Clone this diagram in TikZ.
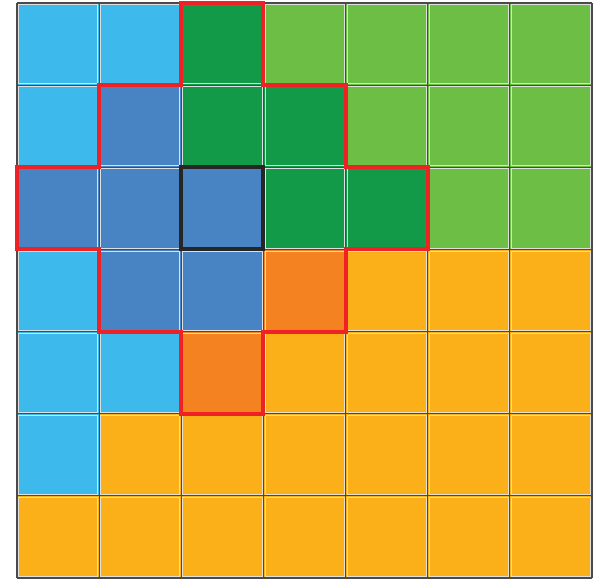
\documentclass[tikz,border=0pt]{standalone}
\definecolor{lb}{HTML}{3DB9EB}
\definecolor{bl}{HTML}{4884C4}
\definecolor{dg}{HTML}{139A48}
\definecolor{lg}{HTML}{6DBE45}
\definecolor{og}{HTML}{F58220}
\definecolor{yl}{HTML}{FBB01A}
\definecolor{gridgray}{HTML}{4A4A4A}
\definecolor{redline}{HTML}{EE2124}
\tikzset{
  cell/.style={draw=white!75!gray, line width=0.8pt},
  gridline/.style={draw=gridgray, line width=1.2pt},
  region/.style={draw=redline, line width=4pt, line join=miter},
  centre/.style={draw=black!85, line width=4pt}
}
\begin{document}
\begin{tikzpicture}[x=1pt,y=-1pt]
\useasboundingbox (0,0) rectangle (594,580);
\def\ox{17}\def\oy{3}\def\cs{82.143}
\foreach \c [count=\n from 0] in {
  lb,lb,dg,lg,lg,lg,lg,
  lb,bl,dg,dg,lg,lg,lg,
  bl,bl,bl,dg,dg,lg,lg,
  lb,bl,bl,og,yl,yl,yl,
  lb,lb,og,yl,yl,yl,yl,
  lb,yl,yl,yl,yl,yl,yl,
  yl,yl,yl,yl,yl,yl,yl}{
  \pgfmathtruncatemacro{\r}{int(\n/7)}
  \pgfmathtruncatemacro{\k}{\n-7*\r}
  \fill[\c] ({\ox+\k*\cs},{\oy+\r*\cs}) rectangle ++(\cs,\cs);
  \draw[cell] ({\ox+\k*\cs+1.5},{\oy+\r*\cs+1.5}) rectangle ++({\cs-3},{\cs-3});
}
\foreach \i in {0,...,7}{
  \draw[gridline] ({\ox+\i*\cs},\oy) -- ({\ox+\i*\cs},{\oy+7*\cs});
  \draw[gridline] (\ox,{\oy+\i*\cs}) -- ({\ox+7*\cs},{\oy+\i*\cs});
}
\draw[centre] ({\ox+2*\cs},{\oy+2*\cs}) rectangle ++(\cs,\cs);
\draw[region]
  ({\ox+2*\cs},{\oy}) -- ({\ox+3*\cs},{\oy}) -- ({\ox+3*\cs},{\oy+1*\cs})
  -- ({\ox+4*\cs},{\oy+1*\cs}) -- ({\ox+4*\cs},{\oy+2*\cs}) -- ({\ox+5*\cs},{\oy+2*\cs})
  -- ({\ox+5*\cs},{\oy+3*\cs}) -- ({\ox+4*\cs},{\oy+3*\cs}) -- ({\ox+4*\cs},{\oy+4*\cs})
  -- ({\ox+3*\cs},{\oy+4*\cs}) -- ({\ox+3*\cs},{\oy+5*\cs}) -- ({\ox+2*\cs},{\oy+5*\cs})
  -- ({\ox+2*\cs},{\oy+4*\cs}) -- ({\ox+1*\cs},{\oy+4*\cs}) -- ({\ox+1*\cs},{\oy+3*\cs})
  -- ({\ox},{\oy+3*\cs}) -- ({\ox},{\oy+2*\cs}) -- ({\ox+1*\cs},{\oy+2*\cs})
  -- ({\ox+1*\cs},{\oy+1*\cs}) -- ({\ox+2*\cs},{\oy+1*\cs}) -- cycle;
\end{tikzpicture}
\end{document}
